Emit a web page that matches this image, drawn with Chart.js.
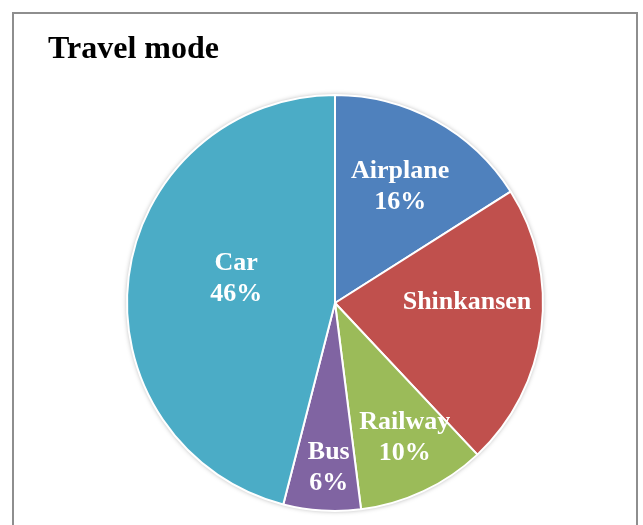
<!DOCTYPE html>
<html>
<head>
<meta charset="utf-8">
<script src="https://cdn.jsdelivr.net/npm/chart.js@4/dist/chart.umd.min.js"></script>
<style>
  html, body { margin: 0; padding: 0; background: #ffffff; }
  #wrap { width: 643px; height: 525px; position: relative; }
</style>
</head>
<body>
<div id="wrap"><canvas id="c" width="643" height="525"></canvas></div>
<script>
// Travel mode shares (%)
const modes = ['Airplane', 'Shinkansen', 'Railway', 'Bus', 'Car'];
const shares = [16, 22, 10, 6, 46];
// Whether a slice's label also shows its percentage
const showPct = [true, false, true, true, true];

const sliceColors = ['#4F81BD', '#C0504D', '#9BBB59', '#8064A2', '#4BACC6'];

// Label placement inside each slice: fraction of the radius along the
// slice's middle angle, plus a small nudge in pixels.
const labelRadius = [0.65, 0.63, 0.72, 0.785, 0.486];
const labelNudge = [[0, 0], [2, -19], [6, -3], [4, 0], [1.5, -14]];

const LABEL_FONT = 'bold 26px "Liberation Serif", "Times New Roman", serif';
const LINE_GAP = 31;
const CAP_H = 18;

const framePlugin = {
  id: 'frame',
  beforeDraw(chart) {
    const ctx = chart.ctx;
    ctx.save();
    ctx.fillStyle = '#ffffff';
    ctx.fillRect(0, 0, chart.width, chart.height);
    ctx.strokeStyle = '#8e8e8e';
    ctx.lineWidth = 2;
    ctx.strokeRect(13, 13, 624, 540);
    ctx.fillStyle = '#000000';
    ctx.font = 'bold 32px "Liberation Serif", "Times New Roman", serif';
    ctx.textBaseline = 'alphabetic';
    ctx.textAlign = 'left';
    ctx.fillText('Travel mode', 48, 58);
    ctx.restore();
  },
  beforeDatasetsDraw(chart) {
    // soft shadow behind the whole pie
    const arc = chart.getDatasetMeta(0).data[0];
    if (!arc) return;
    const ctx = chart.ctx;
    ctx.save();
    ctx.shadowColor = 'rgba(0,0,0,0.35)';
    ctx.shadowBlur = 5;
    ctx.fillStyle = '#ffffff';
    ctx.beginPath();
    ctx.arc(arc.x, arc.y, arc.outerRadius, 0, Math.PI * 2);
    ctx.fill();
    ctx.restore();
  },
  afterDatasetsDraw(chart) {
    const ctx = chart.ctx;
    const meta = chart.getDatasetMeta(0);
    ctx.save();
    ctx.fillStyle = '#ffffff';
    ctx.font = LABEL_FONT;
    ctx.textAlign = 'center';
    ctx.textBaseline = 'alphabetic';
    meta.data.forEach((arc, i) => {
      const mid = (arc.startAngle + arc.endAngle) / 2;
      const r = arc.outerRadius * labelRadius[i];
      const cx = arc.x + Math.cos(mid) * r + labelNudge[i][0];
      const cy = arc.y + Math.sin(mid) * r + labelNudge[i][1];
      const lines = [modes[i]];
      if (showPct[i]) lines.push(shares[i] + '%');
      const n = lines.length;
      lines.forEach((t, k) => {
        const y = cy + CAP_H / 2 + (k - (n - 1) / 2) * LINE_GAP;
        ctx.fillText(t, cx, y);
      });
    });
    ctx.restore();
  }
};

new Chart(document.getElementById('c'), {
  type: 'pie',
  data: {
    labels: modes,
    datasets: [{
      data: shares,
      backgroundColor: sliceColors,
      borderColor: '#ffffff',
      borderWidth: 2,
      hoverOffset: 0,
      offset: 0
    }]
  },
  options: {
    responsive: false,
    animation: false,
    events: [],
    layout: { padding: { left: 126, top: 94, right: 99, bottom: 13 } },
    plugins: {
      legend: { display: false },
      title: { display: false },
      tooltip: { enabled: false }
    }
  },
  plugins: [framePlugin]
});
</script>
</body>
</html>
